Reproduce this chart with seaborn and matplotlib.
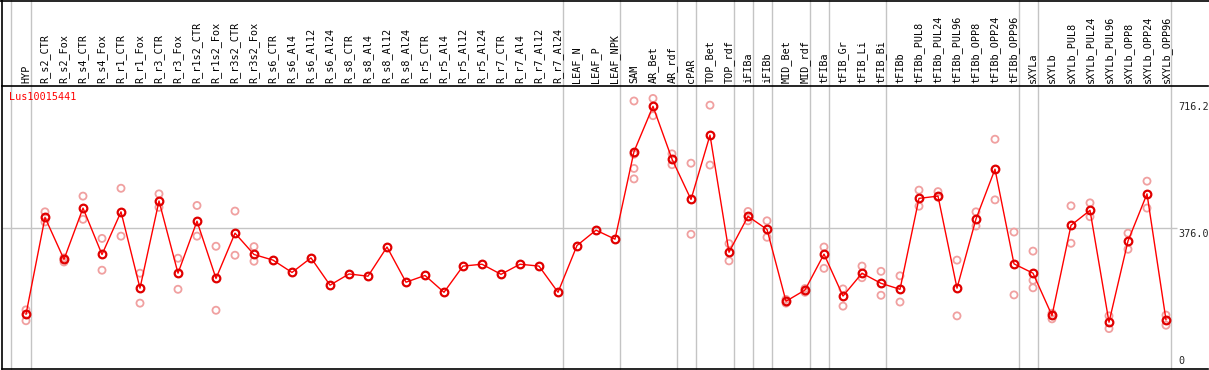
import matplotlib
matplotlib.use("Agg")
import matplotlib.pyplot as plt
from matplotlib.lines import Line2D
import seaborn as sns
import pandas as pd

categories = [
    "HYP", "R_s2_CTR", "R_s2_Fox", "R_s4_CTR", "R_s4_Fox", "R_r1_CTR", "R_r1_Fox",
    "R_r3_CTR", "R_r3_Fox", "R_r1s2_CTR", "R_r1s2_Fox", "R_r3s2_CTR", "R_r3s2_Fox",
    "R_s6_CTR", "R_s6_Al4", "R_s6_Al12", "R_s6_Al24", "R_s8_CTR", "R_s8_Al4",
    "R_s8_Al12", "R_s8_Al24", "R_r5_CTR", "R_r5_Al4", "R_r5_Al12", "R_r5_Al24",
    "R_r7_CTR", "R_r7_Al4", "R_r7_Al12", "R_r7_Al24", "LEAF_N", "LEAF_P", "LEAF_NPK",
    "SAM", "AR_Bet", "AR_rdf", "cPAR", "TOP_Bet", "TOP_rdf", "iFIBa", "iFIBb",
    "MID_Bet", "MID_rdf", "tFIBa", "tFIB_Gr", "tFIB_Li", "tFIB_Bi", "tFIBb",
    "tFIBb_PUL8", "tFIBb_PUL24", "tFIBb_PUL96", "tFIBb_OPP8", "tFIBb_OPP24",
    "tFIBb_OPP96", "sXYLa", "sXYLb", "sXYLb_PUL8", "sXYLb_PUL24", "sXYLb_PUL96",
    "sXYLb_OPP8", "sXYLb_OPP24", "sXYLb_OPP96",
]

mean_values = [
    146, 405, 293, 430, 306, 420, 216, 449, 256, 395, 242, 363, 306,
    291, 258, 297, 224, 254, 248, 326, 232, 250, 205, 275, 280, 253, 280, 275, 205,
    330, 371, 347,
    581, 702, 561, 453, 625, 312, 408, 373, 181, 211,
    307, 195, 256, 229, 213, 456, 462, 216, 401, 534, 281,
    256, 143, 384, 424, 125, 342, 468, 131,
]

replicate_values = [
    [158, 129], [420, 393], [297, 286], [462, 400], [349, 264], [483, 355],
    [256, 176], [468, 432], [296, 213], [437, 355], [328, 157], [422, 304],
    [327, 288],
    [], [], [], [], [], [], [], [], [], [], [], [], [], [], [], [], [], [], [],
    [716.2, 574, 536, 508], [723, 677], [575, 546], [550, 360], [705, 545],
    [335, 289], [421, 396], [396, 352], [176, 186], [215, 205],
    [326, 269], [214, 168], [275, 244], [261, 197], [249, 179], [478, 435],
    [474, 459], [291, 142], [420, 382], [614, 452], [366, 198],
    [315, 237, 217], [149, 134], [436, 336], [444, 407], [142, 108],
    [363, 320], [502, 430], [144, 117],
]

# index of the last category of each group (group separators)
group_ends = [0, 28, 31, 34, 35, 37, 38, 39, 41, 42, 45, 52, 53, 60]

axis_labels = ["716.2", "376.0", "0"]
axis_values = [716.2, 376.0, 0.0]
gene_name = "Lus10015441"

mean_df = pd.DataFrame({"pos": range(len(categories)), "value": mean_values})
rep_rows = [(i, v) for i, reps in enumerate(replicate_values) for v in reps]
rep_df = pd.DataFrame(rep_rows, columns=["pos", "value"])

sns.set_theme(style="white")
plt.rcParams["font.family"] = ["DejaVu Sans Mono", "DejaVu Sans"]

W, H = 1209, 370
fig = plt.figure(figsize=(W / 100, H / 100), dpi=100)
ax_left, ax_right, ax_top, ax_bot = 2, 1208, 86, 369
ax = fig.add_axes([ax_left / W, (H - ax_bot) / H, (ax_right - ax_left) / W, (ax_bot - ax_top) / H])

x0px, dx = 26, 19
ax.set_xlim((ax_left - x0px) / dx, (ax_right - x0px) / dx)
scale = (369 - 228.3) / 376.0
ax.set_ylim(0, (ax_bot - ax_top) / scale)

grey = "#c4c4c4"
ymax_ext = 1 + ax_top / (ax_bot - ax_top)
ax.axvline(-0.8, ymin=0, ymax=ymax_ext, color=grey, lw=1, clip_on=False, zorder=0)
for g in group_ends:
    ax.axvline(g + 0.25, ymin=0, ymax=ymax_ext, color=grey, lw=1, clip_on=False, zorder=0)
ax.hlines(376.0, ax.get_xlim()[0], 60.6, color=grey, lw=1, zorder=0)

sns.scatterplot(data=rep_df, x="pos", y="value", ax=ax, marker="o", s=26,
                facecolor="none", edgecolor="#f0a0a0", linewidth=1.3, zorder=2, legend=False)
sns.lineplot(data=mean_df, x="pos", y="value", ax=ax, color="#ff0000", lw=1,
             marker="o", ms=5.5, mfc="none", mec="#e00000", mew=1.6, zorder=3)

ax.set_xticks(range(len(categories)))
ax.set_xticklabels(categories, rotation=90, fontsize=7.3, color="black")
ax.xaxis.tick_top()
ax.tick_params(axis="x", length=0, pad=2)
ax.set_yticks([])
ax.set_xlabel("")
ax.set_ylabel("")

for sp in ["left", "top", "bottom"]:
    ax.spines[sp].set_visible(True)
    ax.spines[sp].set_color("black")
    ax.spines[sp].set_linewidth(1.2)
ax.spines["right"].set_visible(False)

lab_x = (1178 - x0px) / dx
for lab, val in zip(axis_labels, axis_values):
    if val == 0:
        ax.text(lab_x, 0.0 + 3 / scale, lab, ha="left", va="bottom", fontsize=7.3)
    else:
        ax.text(lab_x, val - 1 / scale, lab, ha="left", va="top", fontsize=7.3)

ax.text(7 / (ax_right - ax_left), 1 - (97.5 - ax_top) / (ax_bot - ax_top), gene_name,
        transform=ax.transAxes, ha="left", va="center", color="#ff0000", fontsize=7.3)

fig.add_artist(Line2D([0, 1], [1 - 0.6 / H, 1 - 0.6 / H], transform=fig.transFigure,
                      color="black", lw=1.2))
fig.add_artist(Line2D([ax_left / W, ax_left / W], [(H - ax_top) / H, 1], transform=fig.transFigure,
                      color="black", lw=1.2))

fig.savefig("out.png", dpi=100)
